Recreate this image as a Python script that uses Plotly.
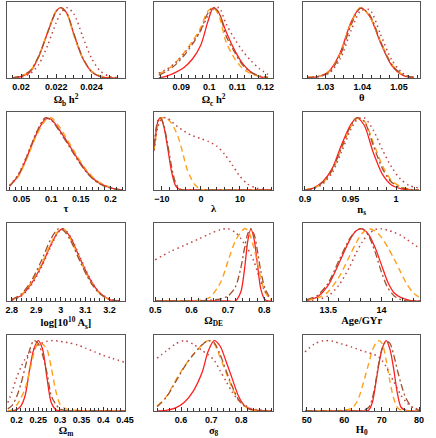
import numpy as np
import plotly.graph_objects as go

# ---------------- data (normalised 1D posteriors) ----------------
OMB_X = [0.0195, 0.0200, 0.0205, 0.0210, 0.0215, 0.0220, 0.02225, 0.0226, 0.0230, 0.0235, 0.0240, 0.0245, 0.0250, 0.0255]
OMB_RED = [0.0, 0.02, 0.08, 0.30, 0.64, 0.95, 1.0, 0.92, 0.62, 0.28, 0.09, 0.02, 0.0, 0.0]
OMB_ORANGE = [0.0, 0.03, 0.09, 0.31, 0.65, 0.96, 1.0, 0.91, 0.60, 0.28, 0.10, 0.03, 0.01, 0.0]
OMB_BROWN = [0.0, 0.03, 0.10, 0.31, 0.64, 0.95, 1.0, 0.92, 0.63, 0.29, 0.09, 0.02, 0.0, 0.0]
OMB_DOT = [0.002, 0.013, 0.058, 0.19, 0.46, 0.79, 0.92, 1.0, 0.91, 0.59, 0.28, 0.10, 0.024, 0.004]

OMC_X = [0.082, 0.085, 0.088, 0.091, 0.094, 0.097, 0.0995, 0.1015, 0.1035, 0.106, 0.109, 0.112, 0.115, 0.118, 0.121]
OMC_RED = [0.0, 0.03, 0.08, 0.15, 0.27, 0.47, 0.80, 1.0, 0.92, 0.66, 0.40, 0.20, 0.08, 0.02, 0.0]
OMC_ORANGE = [0.06, 0.12, 0.22, 0.36, 0.52, 0.72, 0.95, 1.0, 0.88, 0.51, 0.28, 0.13, 0.06, 0.02, 0.0]
OMC_BROWN = [0.04, 0.10, 0.19, 0.32, 0.48, 0.68, 0.92, 1.0, 0.93, 0.60, 0.37, 0.18, 0.08, 0.03, 0.01]
OMC_DOT = [0.07, 0.13, 0.22, 0.35, 0.50, 0.68, 0.88, 0.98, 1.0, 0.77, 0.56, 0.38, 0.24, 0.13, 0.05]

THETA_X = [1.025, 1.028, 1.031, 1.034, 1.037, 1.0395, 1.042, 1.045, 1.048, 1.051, 1.054]
THETA_RED = [0.01, 0.02, 0.10, 0.36, 0.80, 1.0, 0.88, 0.50, 0.18, 0.04, 0.0]
THETA_ORANGE = [0.01, 0.02, 0.09, 0.34, 0.78, 1.0, 0.88, 0.52, 0.20, 0.05, 0.01]
THETA_BROWN = [0.01, 0.02, 0.08, 0.32, 0.76, 0.99, 0.90, 0.52, 0.19, 0.05, 0.01]
THETA_DOT = [0.0, 0.02, 0.07, 0.27, 0.68, 0.95, 0.97, 0.62, 0.26, 0.07, 0.01]

TAU_X = [0.03, 0.045, 0.06, 0.075, 0.09, 0.1, 0.115, 0.13, 0.145, 0.16, 0.175, 0.19, 0.205, 0.22]
TAU_RED = [0.06, 0.20, 0.47, 0.77, 0.98, 0.98, 0.82, 0.63, 0.43, 0.25, 0.13, 0.06, 0.02, 0.0]
TAU_ORANGE = [0.06, 0.19, 0.45, 0.75, 0.96, 1.0, 0.86, 0.66, 0.45, 0.27, 0.14, 0.07, 0.02, 0.0]
TAU_BROWN = [0.05, 0.21, 0.48, 0.79, 1.0, 0.97, 0.80, 0.61, 0.41, 0.24, 0.12, 0.05, 0.02, 0.0]
TAU_DOT = [0.06, 0.22, 0.49, 0.79, 0.99, 0.97, 0.82, 0.62, 0.42, 0.25, 0.13, 0.06, 0.02, 0.0]

LAM_X = [-12, -11, -10.3, -9.5, -8.5, -7.5, -6.5, -5.5, -4.5, -3.5, -2.5, -1.5, 0, 2, 4, 6, 8, 10, 12, 14, 16, 18]
LAM_RED = [0.55, 0.95, 1.0, 0.88, 0.58, 0.25, 0.06, 0.01, 0, 0, 0, 0, 0, 0, 0, 0, 0, 0, 0, 0, 0, 0]
LAM_ORANGE = [0.55, 0.90, 0.99, 1.0, 0.98, 0.92, 0.82, 0.68, 0.48, 0.28, 0.16, 0.07, 0.01, 0, 0, 0, 0, 0, 0, 0, 0, 0]
LAM_BROWN = [0.60, 0.97, 1.0, 0.90, 0.63, 0.32, 0.10, 0.02, 0, 0, 0, 0, 0, 0, 0, 0, 0, 0, 0, 0, 0, 0]
LAM_DOT = [0.55, 0.88, 0.96, 1.0, 0.99, 0.95, 0.90, 0.86, 0.82, 0.79, 0.76, 0.74, 0.71, 0.67, 0.61, 0.50, 0.35, 0.19, 0.08, 0.03, 0.01, 0.0]

NS_X = [0.90, 0.91, 0.92, 0.93, 0.94, 0.95, 0.957, 0.965, 0.975, 0.985, 0.995, 1.005, 1.015, 1.025]
NS_RED = [0.0, 0.03, 0.12, 0.30, 0.62, 0.90, 1.0, 0.90, 0.52, 0.22, 0.07, 0.02, 0.0, 0.0]
NS_ORANGE = [0.0, 0.03, 0.10, 0.27, 0.57, 0.87, 0.99, 0.96, 0.66, 0.34, 0.13, 0.05, 0.01, 0.0]
NS_BROWN = [0.0, 0.03, 0.11, 0.28, 0.58, 0.88, 1.0, 0.95, 0.62, 0.30, 0.11, 0.03, 0.01, 0.0]
NS_DOT = [0.0, 0.02, 0.09, 0.24, 0.52, 0.83, 0.97, 1.0, 0.83, 0.56, 0.32, 0.15, 0.06, 0.03]

AS_X = [2.80, 2.84, 2.88, 2.92, 2.96, 2.99, 3.01, 3.04, 3.08, 3.12, 3.16, 3.20, 3.24]
AS_RED = [0.02, 0.08, 0.24, 0.48, 0.78, 0.96, 1.0, 0.88, 0.58, 0.30, 0.11, 0.02, 0.0]
AS_ORANGE = [0.02, 0.09, 0.26, 0.50, 0.80, 0.97, 1.0, 0.86, 0.56, 0.28, 0.10, 0.02, 0.0]
AS_BROWN = [0.02, 0.10, 0.28, 0.55, 0.86, 1.0, 0.98, 0.84, 0.54, 0.27, 0.10, 0.02, 0.0]
AS_DOT = [0.01, 0.07, 0.22, 0.46, 0.76, 0.95, 1.0, 0.89, 0.60, 0.31, 0.11, 0.03, 0.0]

ODE_X = [0.50, 0.54, 0.58, 0.62, 0.65, 0.68, 0.70, 0.72, 0.735, 0.745, 0.755, 0.763, 0.772, 0.78, 0.79, 0.80, 0.81, 0.82]
ODE_RED = [0, 0, 0, 0, 0, 0, 0, 0.0, 0.12, 0.42, 0.85, 1.0, 0.85, 0.55, 0.17, 0.03, 0, 0]
ODE_ORANGE = [0, 0, 0, 0.01, 0.05, 0.26, 0.55, 0.83, 0.95, 1.0, 0.98, 0.88, 0.72, 0.55, 0.32, 0.15, 0.06, 0.02]
ODE_BROWN = [0, 0, 0, 0, 0.01, 0.03, 0.07, 0.19, 0.45, 0.72, 0.94, 1.0, 0.92, 0.72, 0.42, 0.20, 0.09, 0.03]
ODE_DOT = [0.57, 0.68, 0.77, 0.86, 0.93, 0.99, 1.0, 0.95, 0.87, 0.79, 0.72, 0.64, 0.54, 0.42, 0.27, 0.15, 0.07, 0.02]

AGE_X = [13.30, 13.40, 13.50, 13.60, 13.70, 13.76, 13.82, 13.88, 13.94, 14.00, 14.06, 14.12, 14.18, 14.24, 14.30, 14.36]
AGE_RED = [0.01, 0.06, 0.22, 0.52, 0.84, 0.97, 1.0, 0.92, 0.74, 0.50, 0.26, 0.11, 0.05, 0.02, 0.0, 0.0]
AGE_ORANGE = [0.01, 0.04, 0.13, 0.33, 0.62, 0.80, 0.94, 1.0, 0.97, 0.88, 0.74, 0.58, 0.40, 0.23, 0.11, 0.05]
AGE_BROWN = [0.02, 0.08, 0.25, 0.56, 0.86, 0.97, 1.0, 0.90, 0.68, 0.40, 0.18, 0.07, 0.02, 0.0, 0.0, 0.0]
AGE_DOT = [0.0, 0.02, 0.07, 0.22, 0.47, 0.66, 0.82, 0.93, 0.99, 1.0, 0.98, 0.95, 0.91, 0.85, 0.79, 0.73]

OMM_X = [0.18, 0.19, 0.20, 0.21, 0.22, 0.23, 0.24, 0.25, 0.26, 0.27, 0.28, 0.29, 0.30, 0.31, 0.32, 0.34, 0.36, 0.38, 0.40, 0.42, 0.45]
OMM_RED = [0, 0, 0.02, 0.07, 0.22, 0.58, 0.88, 1.0, 0.88, 0.48, 0.12, 0.02, 0, 0, 0, 0, 0, 0, 0, 0, 0]
OMM_ORANGE = [0.0, 0.02, 0.08, 0.18, 0.32, 0.55, 0.82, 0.97, 0.95, 0.88, 0.62, 0.30, 0.10, 0.04, 0.02, 0.01, 0, 0, 0, 0, 0]
OMM_BROWN = [0.03, 0.08, 0.20, 0.38, 0.62, 0.86, 1.0, 0.96, 0.80, 0.55, 0.22, 0.10, 0.03, 0.01, 0, 0, 0, 0, 0, 0, 0]
OMM_DOT = [0.12, 0.28, 0.47, 0.62, 0.74, 0.82, 0.88, 0.94, 0.97, 0.99, 1.0, 1.0, 0.99, 0.98, 0.97, 0.94, 0.89, 0.84, 0.79, 0.75, 0.69]

S8_X = [0.52, 0.55, 0.58, 0.61, 0.64, 0.67, 0.69, 0.71, 0.73, 0.75, 0.77, 0.79, 0.81, 0.83, 0.85, 0.88, 0.90]
S8_RED = [0, 0.01, 0.04, 0.12, 0.28, 0.55, 0.85, 1.0, 0.92, 0.70, 0.46, 0.22, 0.08, 0.03, 0.01, 0, 0]
S8_ORANGE = [0.07, 0.20, 0.42, 0.63, 0.80, 0.94, 1.0, 0.95, 0.76, 0.54, 0.33, 0.16, 0.07, 0.02, 0.01, 0, 0]
S8_BROWN = [0.06, 0.19, 0.40, 0.62, 0.80, 0.94, 1.0, 0.97, 0.80, 0.57, 0.35, 0.17, 0.07, 0.02, 0.01, 0, 0]
S8_DOT = [0.75, 0.85, 0.95, 1.0, 0.95, 0.86, 0.80, 0.72, 0.57, 0.42, 0.27, 0.16, 0.09, 0.04, 0.02, 0.01, 0]

H0_X = [49.5, 52, 54.5, 57, 59.5, 62, 63.5, 65, 66.5, 67.5, 68.5, 69.3, 70.2, 71.2, 72.2, 73.2, 74.2, 75.2, 76.5, 78, 80]
H0_RED = [0, 0, 0, 0, 0, 0, 0, 0.0, 0.01, 0.12, 0.42, 0.68, 0.90, 1.0, 0.88, 0.60, 0.25, 0.05, 0.01, 0, 0]
H0_ORANGE = [0, 0, 0, 0, 0.01, 0.04, 0.14, 0.38, 0.67, 0.86, 0.97, 1.0, 0.95, 0.72, 0.42, 0.18, 0.05, 0.01, 0, 0, 0]
H0_BROWN = [0, 0, 0, 0, 0, 0, 0, 0.01, 0.05, 0.18, 0.45, 0.70, 0.90, 0.99, 0.96, 0.80, 0.58, 0.38, 0.18, 0.06, 0.01]
H0_DOT = [0.84, 0.95, 1.0, 0.99, 0.95, 0.91, 0.88, 0.85, 0.83, 0.81, 0.79, 0.76, 0.71, 0.63, 0.52, 0.42, 0.32, 0.22, 0.13, 0.06, 0.02]

# axis titles and tick labels
TITLES = ["Ω<sub>b</sub> h<sup>2</sup>", "Ω<sub>c</sub> h<sup>2</sup>", "θ",
          "τ", "λ", "n<sub>s</sub>",
          "log[10<sup>10</sup> A<sub>s</sub>]", "Ω<sub>DE</sub>", "Age/GYr",
          "Ω<sub>m</sub>", "σ<sub>8</sub>", "H<sub>0</sub>"]
TICKS = [[0.020, 0.022, 0.024], [0.09, 0.10, 0.11, 0.12], [1.03, 1.04, 1.05],
         [0.05, 0.10, 0.15, 0.20], [-10, 0, 10], [0.90, 0.95, 1.00],
         [2.8, 2.9, 3.0, 3.1, 3.2], [0.5, 0.6, 0.7, 0.8], [13.5, 14.0],
         [0.20, 0.25, 0.30, 0.35, 0.40, 0.45], [0.6, 0.7, 0.8], [50, 60, 70, 80]]
TICK_TEXT = [["0.02", "0.022", "0.024"], ["0.09", "0.1", "0.11", "0.12"], ["1.03", "1.04", "1.05"],
             ["0.05", "0.1", "0.15", "0.2"], ["−10", "0", "10"], ["0.9", "0.95", "1"],
             ["2.8", "2.9", "3", "3.1", "3.2"], ["0.5", "0.6", "0.7", "0.8"], ["13.5", "14"],
             ["0.2", "0.25", "0.3", "0.35", "0.4", "0.45"], ["0.6", "0.7", "0.8"], ["50", "60", "70", "80"]]

PANELS = [
    (OMB_X, OMB_RED, OMB_ORANGE, OMB_BROWN, OMB_DOT),
    (OMC_X, OMC_RED, OMC_ORANGE, OMC_BROWN, OMC_DOT),
    (THETA_X, THETA_RED, THETA_ORANGE, THETA_BROWN, THETA_DOT),
    (TAU_X, TAU_RED, TAU_ORANGE, TAU_BROWN, TAU_DOT),
    (LAM_X, LAM_RED, LAM_ORANGE, LAM_BROWN, LAM_DOT),
    (NS_X, NS_RED, NS_ORANGE, NS_BROWN, NS_DOT),
    (AS_X, AS_RED, AS_ORANGE, AS_BROWN, AS_DOT),
    (ODE_X, ODE_RED, ODE_ORANGE, ODE_BROWN, ODE_DOT),
    (AGE_X, AGE_RED, AGE_ORANGE, AGE_BROWN, AGE_DOT),
    (OMM_X, OMM_RED, OMM_ORANGE, OMM_BROWN, OMM_DOT),
    (S8_X, S8_RED, S8_ORANGE, S8_BROWN, S8_DOT),
    (H0_X, H0_RED, H0_ORANGE, H0_BROWN, H0_DOT),
]

# ---------------- layout / styling ----------------
X_RANGES = [[0.0192, 0.0259], [0.0803, 0.1228], [1.0239, 1.0558],
            [0.0256, 0.2244], [-12.0, 18.5], [0.898, 1.0266],
            [2.78, 3.263], [0.497, 0.824], [13.264, 14.364],
            [0.178, 0.45], [0.51, 0.906], [49.0, 80.3]]
MINOR = [0.0005, 0.0025, 0.0025, 0.01, 2, 0.01, 0.02, 0.02, 0.1, 0.01, 0.02, 2]

W, H = 436, 438
COLS_PX = [(2, 124), (154, 277), (308, 429)]
ROWS_PX = [(2, 78), (112, 190), (223, 301), (335, 411)]

STYLES = [
    dict(color="#ff1f1f", width=1.3, dash="solid"),
    dict(color="#ffa01a", width=1.4, dash="6px,4px"),
    dict(color="#a0522d", width=1.3, dash="7px,3px,2px,3px"),
    dict(color="#c04545", width=1.5, dash="1.5px,3.5px"),
]
FRAME = "#555555"

fig = go.Figure()
layout = dict(width=W, height=H, margin=dict(l=0, r=0, t=0, b=0),
              paper_bgcolor="white", plot_bgcolor="white", showlegend=False)

for i, panel in enumerate(PANELS):
    r, c = divmod(i, 3)
    xa = "x" if i == 0 else f"x{i+1}"
    ya = "y" if i == 0 else f"y{i+1}"
    xs = panel[0]
    for ys, st in zip(panel[1:], STYLES):
        fig.add_trace(go.Scatter(x=xs, y=ys, mode="lines", xaxis=xa, yaxis=ya,
                                 line=dict(shape="spline", smoothing=0.8, **st),
                                 hoverinfo="skip"))
    x0, x1 = COLS_PX[c]
    y0, y1 = ROWS_PX[r]
    lo, hi = X_RANGES[i]
    minor_vals = list(np.arange(np.ceil(lo / MINOR[i]) * MINOR[i], hi, MINOR[i]))
    layout["xaxis" if i == 0 else f"xaxis{i+1}"] = dict(
        domain=[x0 / W, x1 / W], anchor=ya, range=X_RANGES[i],
        showline=True, linecolor=FRAME, linewidth=1.2, mirror=True,
        showgrid=False, zeroline=False,
        tickmode="array", tickvals=TICKS[i], ticktext=TICK_TEXT[i],
        ticks="inside", ticklen=4, tickwidth=1, tickcolor="#333333",
        minor=dict(tickmode="array", tickvals=minor_vals, ticks="inside",
                   ticklen=2.5, tickwidth=1, tickcolor="#333333", showgrid=False),
        tickfont=dict(family="Liberation Sans", size=9, color="black", weight="bold"),
        title=dict(text=TITLES[i], standoff=1,
                   font=dict(family="Liberation Serif", size=10.5, color="black", weight="bold")),
    )
    layout["yaxis" if i == 0 else f"yaxis{i+1}"] = dict(
        domain=[1 - y1 / H, 1 - y0 / H], anchor=xa, range=[0, 1.08],
        showline=True, linecolor=FRAME, linewidth=1.2, mirror=True,
        showgrid=False, zeroline=False, showticklabels=False, ticks="",
    )

fig.update_layout(**layout)
fig.write_html("out.html", config={"displayModeBar": False},
               post_script="document.body.style.margin='0';document.body.style.padding='0';")
